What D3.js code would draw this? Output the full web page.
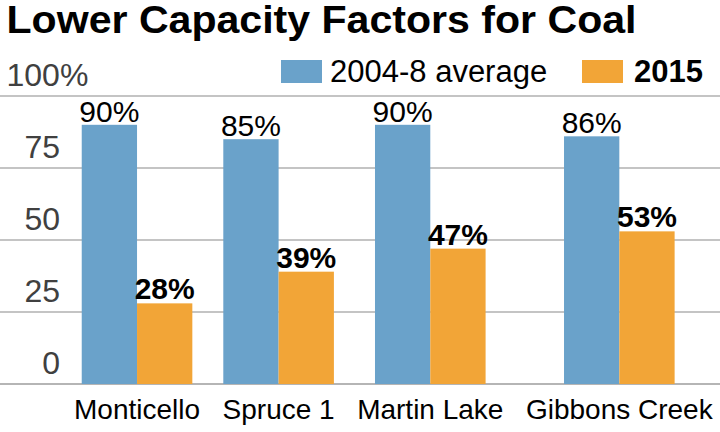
<!DOCTYPE html>
<html>
<head>
<meta charset="utf-8">
<script src="https://cdn.jsdelivr.net/npm/d3@7"></script>
<style>
  html, body { margin: 0; padding: 0; background: #fff; }
  svg { display: block; font-family: "Liberation Sans", Arial, sans-serif; }
</style>
</head>
<body>
<svg id="chart" width="720" height="432"></svg>
<script>
const title = "Lower Capacity Factors for Coal";
const categories = ["Monticello", "Spruce 1", "Martin Lake", "Gibbons Creek"];
const seriesNames = ["2004-8 average", "2015"];
const avg2004_8 = [90, 85, 90, 86];
const y2015 = [28, 39, 47, 53];
const yTicks = [0, 25, 50, 75, 100];
const yTickLabels = ["0", "25", "50", "75", "100%"];

const colors = { "2004-8 average": "#6aa2ca", "2015": "#f2a537" };
const seriesValues = { "2004-8 average": avg2004_8, "2015": y2015 };

const W = 720, H = 432;
const svg = d3.select("#chart");

const y = d3.scaleLinear().domain([0, 100]).range([384, 96]);

// title
svg.append("text")
  .attr("x", 6.5).attr("y", 33)
  .attr("font-size", 38).attr("font-weight", "bold").attr("fill", "#000")
  .attr("textLength", 630).attr("lengthAdjust", "spacingAndGlyphs")
  .text(title);

// gridlines
svg.append("g").selectAll("line").data(yTicks).join("line")
  .attr("x1", 0).attr("x2", W)
  .attr("y1", d => y(d)).attr("y2", d => y(d))
  .attr("stroke", d => d === 0 ? "#b5b5b5" : "#c4c4c4")
  .attr("stroke-width", 2);

// tick labels
svg.append("g").selectAll("text").data(yTicks).join("text")
  .attr("x", d => d === 100 ? 6.5 : 60)
  .attr("y", d => y(d) - 10)
  .attr("text-anchor", d => d === 100 ? "start" : "end")
  .attr("font-size", 32).attr("fill", "#404040")
  .text((d, i) => yTickLabels[i]);

// x labels: laid out in a row (label width + gap), bars centred under each label
const labelStart = 74, labelGap = 22.5;
const xl = svg.append("g").selectAll("text").data(categories).join("text")
  .attr("y", 419)
  .attr("text-anchor", "middle")
  .attr("font-size", 28).attr("fill", "#000")
  .text(d => d);
const widths = xl.nodes().map(n => n.getComputedTextLength());
const centers = [];
let cursor = labelStart;
widths.forEach(w => { centers.push(cursor + w / 2); cursor += w + labelGap; });
const x0 = d3.scaleOrdinal().domain(categories).range(centers);
xl.attr("x", d => x0(d));

const groupWidth = 110.6;
const x1 = d3.scaleBand().domain(seriesNames).range([-groupWidth / 2, groupWidth / 2]).padding(0);

// bars
const groups = svg.append("g").selectAll("g").data(categories).join("g")
  .attr("transform", d => `translate(${x0(d)},0)`);

const rowData = (c, ci) => seriesNames.map(s => ({ s, v: seriesValues[s][ci] }));

groups.selectAll("rect").data(rowData).join("rect")
  .attr("x", d => x1(d.s))
  .attr("y", d => y(d.v))
  .attr("width", x1.bandwidth())
  .attr("height", d => y(0) - y(d.v))
  .attr("fill", d => colors[d.s]);

groups.selectAll("text.val").data(rowData).join("text")
  .attr("class", "val")
  .attr("x", d => x1(d.s) + x1.bandwidth() / 2)
  .attr("y", d => y(d.v) - (d.s === "2015" ? 4 : 3))
  .attr("text-anchor", "middle")
  .attr("font-size", 30)
  .attr("font-weight", d => d.s === "2015" ? "bold" : "normal")
  .attr("fill", "#000")
  .text(d => d.v + "%");

// legend
const legendItems = [
  { name: seriesNames[0], rx: 281, tx: 330, bold: false },
  { name: seriesNames[1], rx: 582, tx: 634, bold: true }
];
const lg = svg.append("g");
lg.selectAll("rect").data(legendItems).join("rect")
  .attr("x", d => d.rx).attr("y", 60).attr("width", 41).attr("height", 23)
  .attr("fill", d => colors[d.name]);
lg.selectAll("text").data(legendItems).join("text")
  .attr("x", d => d.tx).attr("y", 82)
  .attr("font-size", 31)
  .attr("font-weight", d => d.bold ? "bold" : "normal")
  .attr("fill", "#000")
  .text(d => d.name);
</script>
</body>
</html>
